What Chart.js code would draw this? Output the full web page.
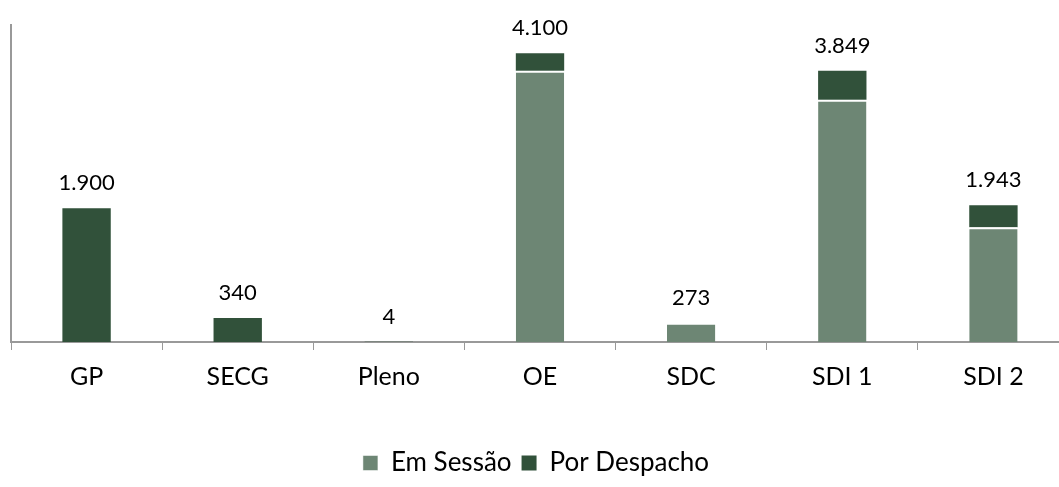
<!DOCTYPE html>
<html>
<head>
<meta charset="utf-8">
<script src="https://cdn.jsdelivr.net/npm/chart.js@4/dist/chart.umd.min.js"></script>
<style>
  html, body { margin: 0; padding: 0; background: #fff; }
  #wrap { width: 1059px; height: 487px; overflow: hidden; }
</style>
</head>
<body>
<div id="wrap"><canvas id="chart" width="1080" height="487"></canvas></div>
<script>
// categories and values
const categories = ["GP", "SECG", "Pleno", "OE", "SDC", "SDI 1", "SDI 2"];
const emSessao = [0, 0, 0, 3850, 273, 3440, 1630];
const porDespacho = [1900, 340, 4, 250, 0, 409, 313];
const totals = [1900, 340, 4, 4100, 273, 3849, 1943];

const FONT = "Lato, 'Open Sans', sans-serif";
const LIGHT = "#6d8674";
const DARK = "#31513a";

const fmtNum = (n) => String(n).replace(/\B(?=(\d{3})+(?!\d))/g, ".");

// draws the stack totals above each bar
const totalLabels = {
  id: "totalLabels",
  afterDatasetsDraw(chart) {
    const { ctx, scales } = chart;
    ctx.save();
    ctx.font = "22px " + FONT;
    ctx.fillStyle = "#000";
    ctx.textAlign = "center";
    ctx.textBaseline = "middle";
    totals.forEach((t, i) => {
      const x = scales.x.getPixelForValue(i);
      const y = scales.y.getPixelForValue(t);
      ctx.fillText(fmtNum(t), x, y - 25);
    });
    ctx.restore();
  },
};

new Chart(document.getElementById("chart"), {
  type: "bar",
  data: {
    labels: categories,
    datasets: [
      {
        label: "Em Sessão",
        data: emSessao,
        backgroundColor: LIGHT,
        borderColor: "#fff",
        borderWidth: { top: 2, left: 0, right: 0, bottom: 0 },
        borderSkipped: false,
        categoryPercentage: 1,
        barPercentage: 0.32,
      },
      {
        label: "Por Despacho",
        data: porDespacho,
        backgroundColor: DARK,
        borderWidth: 0,
        categoryPercentage: 1,
        barPercentage: 0.32,
      },
    ],
  },
  plugins: [totalLabels],
  options: {
    responsive: false,
    animation: false,
    layout: { padding: { left: 3, top: 25, right: 11, bottom: 1 } },
    plugins: {
      tooltip: { enabled: false },
      legend: {
        position: "bottom",
        labels: {
          color: "#000",
          font: { family: FONT, size: 26 },
          boxWidth: 15,
          boxHeight: 15,
          padding: 10,
        },
      },
    },
    scales: {
      x: {
        stacked: true,
        grid: { display: true, drawOnChartArea: false, drawTicks: true, tickLength: 8, color: "#999" },
        border: { display: true, color: "#999", width: 2 },
        ticks: { color: "#000", font: { family: FONT, size: 25 }, padding: 12 },
        afterFit: (scale) => { scale.height += 36; },
      },
      y: {
        stacked: true,
        min: 0,
        max: 4500,
        grid: { display: false },
        border: { display: true, color: "#999", width: 2 },
        ticks: { display: false },
      },
    },
  },
});
</script>
</body>
</html>
